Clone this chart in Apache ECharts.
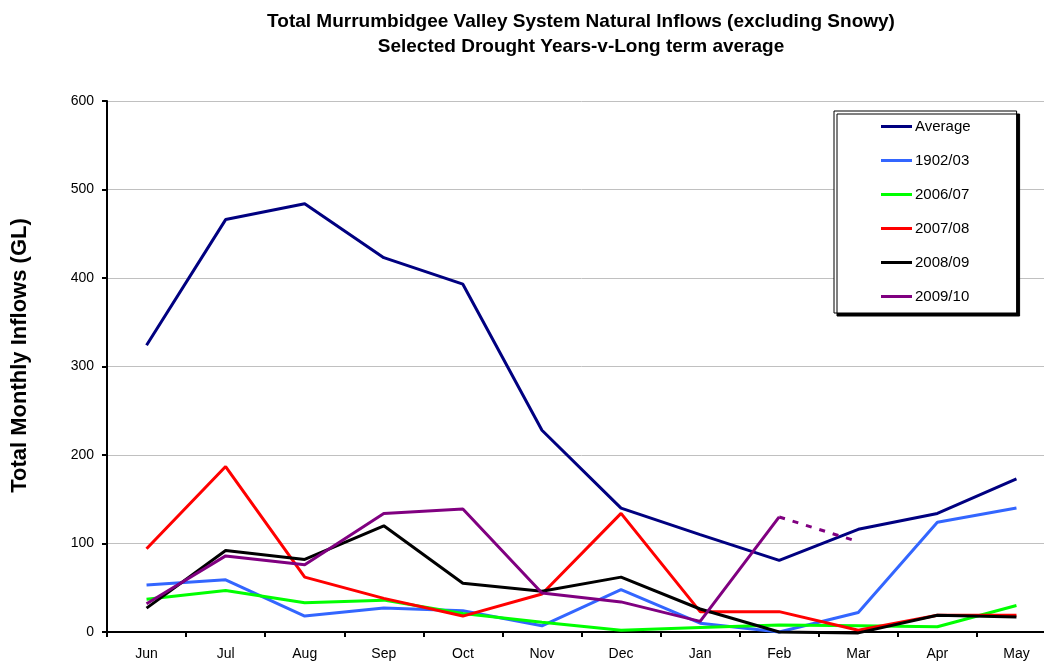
<!DOCTYPE html>
<html><head><meta charset="utf-8">
<script src="https://cdn.jsdelivr.net/npm/echarts@6/dist/echarts.min.js"></script>
<style>html,body{margin:0;padding:0;background:#fff;overflow:hidden}#c{width:1060px;height:661px}</style>
</head><body><div id="c"></div>
<script>
const months = ['Jun','Jul','Aug','Sep','Oct','Nov','Dec','Jan','Feb','Mar','Apr','May'];
const average = [324, 466, 484, 423, 393, 228, 140, 110, 81, 116, 134, 173];
const y1902 = [53, 59, 18, 27, 24, 7, 48, 10, 0, 22, 124, 140];
const y2006 = [37, 47, 33, 36, 21, 11, 2, 5, 8, 7, 6, 30];
const y2007 = [94, 187, 62, 38, 18, 43, 134, 23, 23, 2, 19, 19];
const y2008 = [27, 92, 82, 120, 55, 46, 62, 26, 0, -1, 19, 17];
const y2009 = [32, 86, 76, 134, 139, 44, 34, 12, 130, null, null, null];
const y2009forecast = [null, null, null, null, null, null, null, null, 130, 102, null, null];
const yTicks = [0, 100, 200, 300, 400, 500, 600];

const font = 'Arial, "Liberation Sans", sans-serif';
function line(name, data, color, extra) {
  return Object.assign({
    name, type: 'line', data, symbol: 'none', clip: false,
    lineStyle: { color, width: 3 }, itemStyle: { color },
    emphasis: { disabled: true }, animation: false
  }, extra || {});
}
const chart = echarts.init(document.getElementById('c'), null, { renderer: 'canvas' });
chart.setOption({
  backgroundColor: '#fff',
  animation: false,
  title: {
    text: 'Total Murrumbidgee Valley System Natural Inflows (excluding Snowy)\nSelected Drought Years-v-Long term average',
    left: 576, top: 4, textAlign: 'center',
    textStyle: { fontFamily: font, fontSize: 19, fontWeight: 'bold', color: '#000', lineHeight: 25 }
  },
  grid: { left: 107, top: 101, width: 949, height: 531, containLabel: false },
  legend: {
    orient: 'vertical', left: 834, top: 111,
    data: ['Average', '1902/03', '2006/07', '2007/08', '2008/09', '2009/10'],
    icon: 'rect', itemWidth: 31, itemHeight: 3, itemGap: 19,
    padding: [8, 46, 9, 47],
    backgroundColor: '#fff', borderColor: '#000', borderWidth: 1,
    shadowColor: '#000', shadowBlur: 0, shadowOffsetX: 3, shadowOffsetY: 3,
    textStyle: { fontFamily: font, fontSize: 15, color: '#000', lineHeight: 14, padding: [0, 0, 0, -2] },
    selectedMode: false
  },
  xAxis: {
    type: 'category', data: months, boundaryGap: true,
    axisLine: { lineStyle: { color: '#000', width: 2 } },
    axisTick: { show: true, inside: false, length: 5, alignWithLabel: false, lineStyle: { color: '#000', width: 2 } },
    axisLabel: { fontFamily: font, fontSize: 14, color: '#000', margin: 15, interval: 0 },
    splitLine: { show: false }
  },
  yAxis: {
    type: 'value', min: yTicks[0], max: yTicks[yTicks.length - 1], interval: 100,
    name: 'Total Monthly Inflows (GL)', nameLocation: 'middle', nameGap: 76, nameRotate: 90,
    nameTextStyle: { fontFamily: font, fontSize: 22, fontWeight: 'bold', color: '#000', padding: [0, 0, 0, 22] },
    axisLine: { show: true, lineStyle: { color: '#000', width: 2 } },
    axisTick: { show: true, length: 5, lineStyle: { color: '#000', width: 2 } },
    axisLabel: { fontFamily: font, fontSize: 14, color: '#000', margin: 13 },
    splitLine: { show: true, lineStyle: { color: '#c0c0c0', width: 1 } }
  },
  series: [
    line('Average', average, '#000080'),
    line('1902/03', y1902, '#3366FF'),
    line('2006/07', y2006, '#00FF00'),
    line('2007/08', y2007, '#FF0000'),
    line('2008/09', y2008, '#000000'),
    line('2009/10', y2009, '#800080'),
    line('2009/10 forecast', y2009forecast, '#800080', { lineStyle: { color: '#800080', width: 3, type: [6, 8] } })
  ]
});
</script></body></html>
